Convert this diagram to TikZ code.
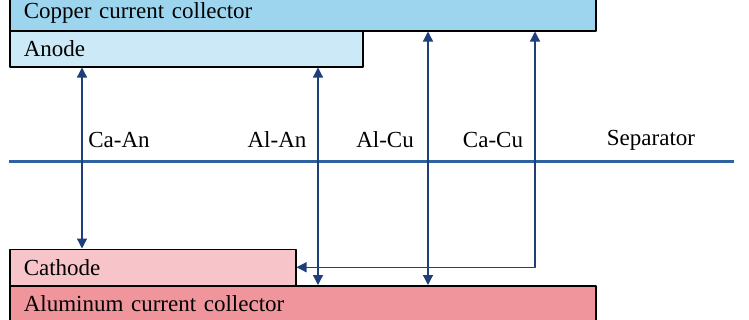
\documentclass[tikz,border=0pt]{standalone}
\usepackage{fontspec}
\setmainfont{Liberation Serif}
\usepackage{tikz}
\usetikzlibrary{arrows.meta,positioning,calc}

\definecolor{cublue}{RGB}{157,213,238}
\definecolor{anblue}{RGB}{203,233,246}
\definecolor{capink}{RGB}{246,196,201}
\definecolor{alred}{RGB}{240,149,156}
\definecolor{sepblue}{RGB}{46,98,160}
\definecolor{linkblue}{RGB}{31,63,122}

\tikzset{
  layer/.style={draw=black,line width=1.5pt,anchor=north west,inner xsep=14pt,
    inner ysep=0pt,minimum height=36pt,align=left,font=\fontsize{23}{27}\selectfont},
  link/.style={draw=linkblue,line width=1.3pt,<->,>={Triangle[width=10pt,length=10pt]}},
  tag/.style={font=\fontsize{23}{27}\selectfont}
}

\begin{document}
\begin{tikzpicture}[x=1pt,y=-1pt,line cap=round,line join=round]
  \useasboundingbox (0,0) rectangle (749,319);

  % layers
  \node[layer,fill=cublue,text width=558pt] (copper) at (9,-6) {Copper current collector};
  \node[layer,fill=anblue,text width=325pt] (anode) at (9,30) {Anode};
  \node[layer,fill=capink,text width=258pt] (cathode) at (9,248.5) {Cathode};
  \node[layer,fill=alred,text width=558pt] (alu) at (9,285) {Aluminum current collector};

  % separator
  \draw[sepblue,line width=3pt,line cap=butt] (9,161) -- (734,161);
  \node[tag] (sep) at (651,140) {Separator};

  % where the arrows run
  \coordinate (xCaAn) at (82,0);
  \coordinate (xAlAn) at (318,0);
  \coordinate (xAlCu) at (428,0);
  \coordinate (xCaCu) at (535,0);

  % arrows
  \draw[link] (xCaAn |- anode.south) -- (xCaAn |- cathode.north);
  \draw[link] (xAlAn |- anode.south) -- (xAlAn |- alu.north);
  \draw[link] (xAlCu |- copper.south) -- (xAlCu |- alu.north);
  \draw[link] (xCaCu |- copper.south) -- (xCaCu |- cathode.east) -- (cathode.east);

  % labels
  \node[tag] (caan) at (119,140) {Ca-An};
  \node[tag] (alan) at (277,140) {Al-An};
  \node[tag] (alcu) at (385,140) {Al-Cu};
  \node[tag] (cacu) at (493,140) {Ca-Cu};
\end{tikzpicture}
\end{document}
